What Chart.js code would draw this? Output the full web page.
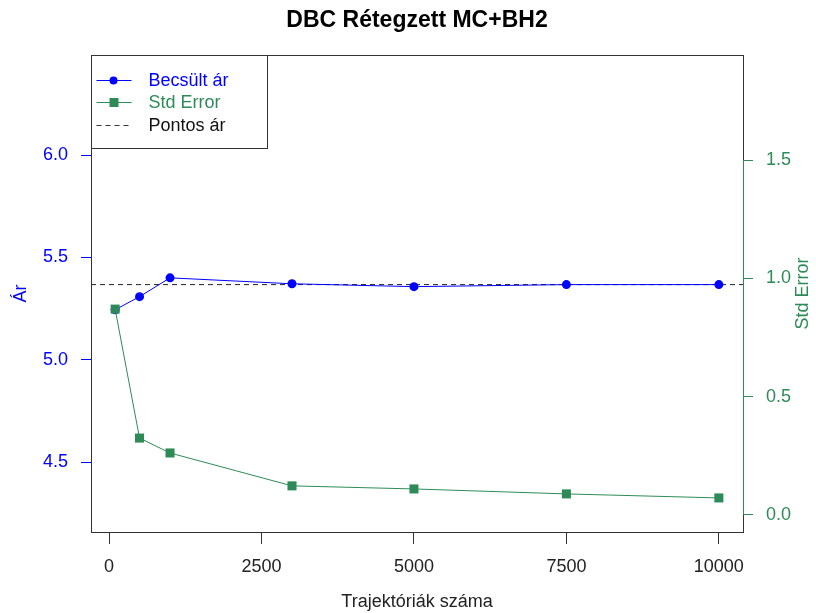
<!DOCTYPE html>
<html>
<head>
<meta charset="utf-8">
<script src="https://cdn.jsdelivr.net/npm/chart.js@4"></script>
<style>
  html, body { margin: 0; padding: 0; background: #fff; }
  #wrap { width: 816px; height: 613px; }
</style>
</head>
<body>
<div id="wrap"><canvas id="chart" width="816" height="613"></canvas></div>
<script>
// adatok
const trajectories = [100, 500, 1000, 3000, 5000, 7500, 10000];
const estPrice = [5.244, 5.308, 5.400, 5.371, 5.357, 5.367, 5.367];
const stdError = [0.870, 0.325, 0.262, 0.123, 0.110, 0.089, 0.072];
const exactPrice = 5.367;

const xTicks = [0, 2500, 5000, 7500, 10000];
const priceTicks = [4.5, 5.0, 5.5, 6.0];
const seTicks = [0.0, 0.5, 1.0, 1.5];
const legendLabels = ['Becsült ár', 'Std Error', 'Pontos ár'];

const xMin = -296, xMax = 10396;
const priceMin = 4.158, priceMax = 6.489;
const seMin = -0.072, seMax = 1.944;

const BLUE = '#0000ff';
const GREEN = '#2e8b57';
const FONT = 'Liberation Sans, Arial, sans-serif';

const toPoints = (ys) => trajectories.map((x, i) => ({ x: x, y: ys[i] }));

// keret, jobb oldali tengelycím, jelmagyarázat
const framePlugin = {
    id: 'frame',
    afterDraw(chart) {
        const { ctx, chartArea: a, scales } = chart;
        ctx.save();
        ctx.strokeStyle = '#333';
        ctx.lineWidth = 1;
        ctx.strokeRect(Math.round(a.left) + 0.5, Math.round(a.top) + 0.5,
            Math.round(a.right - a.left), Math.round(a.bottom - a.top));

        // zöld tengelyvonal a jobb oldalon
        const y1 = scales.y1;
        ctx.strokeStyle = GREEN;
        ctx.beginPath();
        ctx.moveTo(Math.round(a.right) + 0.5, y1.getPixelForValue(seTicks[0]));
        ctx.lineTo(Math.round(a.right) + 0.5, y1.getPixelForValue(seTicks[seTicks.length - 1]));
        ctx.stroke();

        // Std Error felirat (alulról felfelé)
        ctx.fillStyle = GREEN;
        ctx.font = '18px ' + FONT;
        ctx.textAlign = 'center';
        ctx.textBaseline = 'middle';
        ctx.translate(803, (a.top + a.bottom) / 2);
        ctx.rotate(-Math.PI / 2);
        ctx.fillText('Std Error', 0, 0);
        ctx.setTransform(1, 0, 0, 1, 0, 0);

        // jelmagyarázat
        const lx = Math.round(a.left) + 0.5, ly = Math.round(a.top) + 0.5;
        const lw = 176, lh = 93;
        ctx.fillStyle = '#fff';
        ctx.fillRect(lx, ly, lw, lh);
        ctx.strokeStyle = '#333';
        ctx.strokeRect(lx, ly, lw, lh);

        const colors = [BLUE, GREEN, '#333'];
        const textColors = [BLUE, GREEN, '#111'];
        const rows = [25, 47, 70];
        legendLabels.forEach((label, i) => {
            const ry = ly + rows[i];
            ctx.strokeStyle = colors[i];
            ctx.lineWidth = 1;
            ctx.setLineDash(i === 2 ? [5, 4] : []);
            ctx.beginPath();
            ctx.moveTo(lx + 5, ry);
            ctx.lineTo(lx + 40, ry);
            ctx.stroke();
            ctx.setLineDash([]);
            ctx.fillStyle = colors[i];
            if (i === 0) {
                ctx.beginPath();
                ctx.arc(lx + 22, ry, 4, 0, Math.PI * 2);
                ctx.fill();
            } else if (i === 1) {
                ctx.fillRect(lx + 18, ry - 4.5, 9, 9);
            }
            ctx.fillStyle = textColors[i];
            ctx.font = '18px ' + FONT;
            ctx.textAlign = 'left';
            ctx.textBaseline = 'middle';
            ctx.fillText(label, lx + 57, ry + 1);
        });
        ctx.restore();
    }
};

const ctx = document.getElementById('chart');

new Chart(ctx, {
    type: 'line',
    data: {
        datasets: [
            {
                label: 'Std Error',
                data: toPoints(stdError),
                yAxisID: 'y1',
                borderColor: GREEN,
                backgroundColor: GREEN,
                borderWidth: 1,
                pointStyle: 'rect',
                pointRadius: 6.4,
                pointBorderWidth: 0,
                tension: 0
            },
            {
                label: 'Becsült ár',
                data: toPoints(estPrice),
                yAxisID: 'y',
                borderColor: BLUE,
                backgroundColor: BLUE,
                borderWidth: 1,
                pointStyle: 'circle',
                pointRadius: 4.5,
                pointBorderWidth: 0,
                tension: 0
            },
            {
                label: 'Pontos ár',
                data: [{ x: xMin, y: exactPrice }, { x: xMax, y: exactPrice }],
                yAxisID: 'y',
                borderColor: '#222',
                borderWidth: 1,
                borderDash: [5, 4],
                pointRadius: 0
            }
        ]
    },
    options: {
        responsive: false,
        animation: false,
        layout: { padding: 0 },
        plugins: {
            legend: { display: false },
            tooltip: { enabled: false },
            title: {
                display: true,
                text: 'DBC Rétegzett MC+BH2',
                fullSize: false,
                color: '#000',
                font: { family: FONT, size: 23, weight: 'bold' },
                padding: { top: 7, bottom: 20.4 }
            }
        },
        scales: {
            x: {
                type: 'linear',
                position: 'bottom',
                min: xMin,
                max: xMax,
                afterBuildTicks: (s) => { s.ticks = xTicks.map(v => ({ value: v })); },
                afterFit: (s) => { s.height = 81; },
                border: { display: false },
                grid: { drawOnChartArea: false, drawTicks: true, tickLength: 12, color: '#333' },
                ticks: {
                    color: '#222',
                    font: { family: FONT, size: 18 },
                    padding: 12,
                    maxRotation: 0,
                    autoSkip: false,
                    callback: (v) => String(v)
                },
                title: {
                    display: true,
                    text: 'Trajektóriák száma',
                    color: '#222',
                    font: { family: FONT, size: 18 },
                    padding: { top: 0, bottom: 0 }
                }
            },
            y: {
                position: 'left',
                min: priceMin,
                max: priceMax,
                afterBuildTicks: (s) => { s.ticks = priceTicks.map(v => ({ value: v })); },
                afterFit: (s) => { s.width = 91; },
                border: { display: false },
                grid: { drawOnChartArea: false, drawTicks: true, tickLength: 10, color: BLUE },
                ticks: {
                    color: BLUE,
                    font: { family: FONT, size: 18 },
                    padding: 13,
                    callback: (v) => v.toFixed(1)
                },
                title: {
                    display: true,
                    text: 'Ár',
                    color: BLUE,
                    font: { family: FONT, size: 18 },
                    padding: { top: 10, bottom: 0 }
                }
            },
            y1: {
                position: 'right',
                min: seMin,
                max: seMax,
                afterBuildTicks: (s) => { s.ticks = seTicks.map(v => ({ value: v })); },
                afterFit: (s) => { s.width = 73; },
                border: { display: false },
                grid: { drawOnChartArea: false, drawTicks: true, tickLength: 10, color: GREEN },
                ticks: {
                    color: GREEN,
                    font: { family: FONT, size: 18 },
                    padding: 13,
                    callback: (v) => v.toFixed(1)
                }
            }
        }
    },
    plugins: [framePlugin]
});
</script>
</body>
</html>
